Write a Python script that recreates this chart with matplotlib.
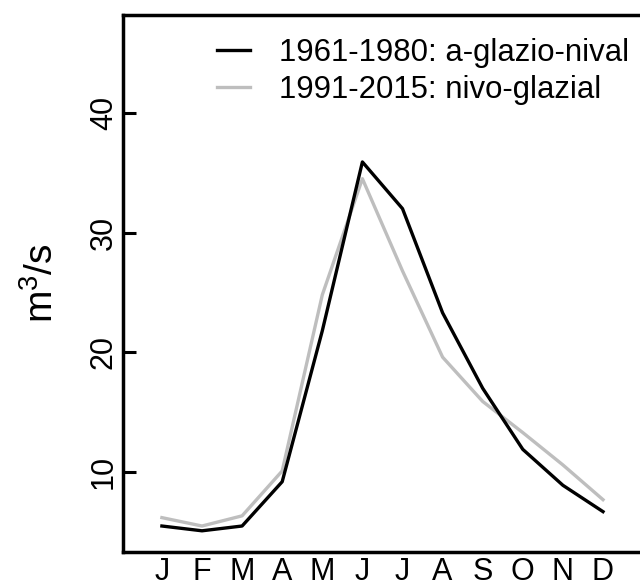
"""Monthly mean discharge regime, two reference periods."""

import matplotlib

matplotlib.use("Agg")
import matplotlib.pyplot as plt

# Month labels and mean monthly discharge (m^3/s) per period.
MONTHS = ["J", "F", "M", "A", "M", "J", "J", "A", "S", "O", "N", "D"]
Q_1961_1980 = [5.5, 5.1, 5.5, 9.2, 21.8, 35.9, 32.0, 23.3, 17.0, 11.9, 8.9, 6.7]
Q_1991_2015 = [6.2, 5.5, 6.35, 10.1, 24.8, 34.5, 26.8, 19.6, 15.9, 13.3, 10.6, 7.7]
LABEL_OLD = "1961-1980: a-glazio-nival"
LABEL_NEW = "1991-2015: nivo-glazial"
Y_TICKS = [10, 20, 30, 40]

plt.rcParams["font.family"] = ["Liberation Sans", "DejaVu Sans"]
plt.rcParams["mathtext.fontset"] = "custom"
plt.rcParams["mathtext.rm"] = "Liberation Sans"
plt.rcParams["mathtext.it"] = "Liberation Sans:italic"

W, H = 640, 587
fig = plt.figure(figsize=(W / 100, H / 100), dpi=100)
# box runs off the right edge of the canvas
left, right, bottom, top = 123, 648, 552, 15
ax = fig.add_axes([left / W, (H - bottom) / H, (right - left) / W, (bottom - top) / H])

x = list(range(1, len(MONTHS) + 1))
ax.plot(x, Q_1991_2015, color="#bebebe", lw=2.4, label=LABEL_NEW, zorder=2)
ax.plot(x, Q_1961_1980, color="black", lw=2.4, label=LABEL_OLD, zorder=3)

ax.set_xlim(0.03, 12 + (right - 603) / 40.1)
ax.set_ylim(3.33, 48.17)

ax.set_xticks(x)
ax.set_xticklabels(MONTHS)
ax.tick_params(axis="x", length=0, pad=3.5, labelsize=22)
ax.set_yticks(Y_TICKS)
ax.tick_params(axis="y", direction="in", length=9.5, width=2.2, pad=3, labelsize=22)
for lab in ax.get_yticklabels():
    lab.set_rotation(90)
    lab.set_va("center")

for sp in ax.spines.values():
    sp.set_linewidth(2.5)

ax.set_ylabel(r"m$^{3}$/s", fontsize=28)
ax.yaxis.set_label_coords(-0.118, 0.5)

handles, labels = ax.get_legend_handles_labels()
leg = ax.legend(
    handles[::-1], labels[::-1],
    loc="upper left",
    bbox_to_anchor=(217 / W, 1 - 38 / H),
    bbox_transform=fig.transFigure,
    frameon=False,
    fontsize=22.4,
    handlelength=1.05,
    handletextpad=0.95,
    labelspacing=0.22,
    borderpad=0,
    borderaxespad=0,
)

fig.savefig("out.png", dpi=100)
